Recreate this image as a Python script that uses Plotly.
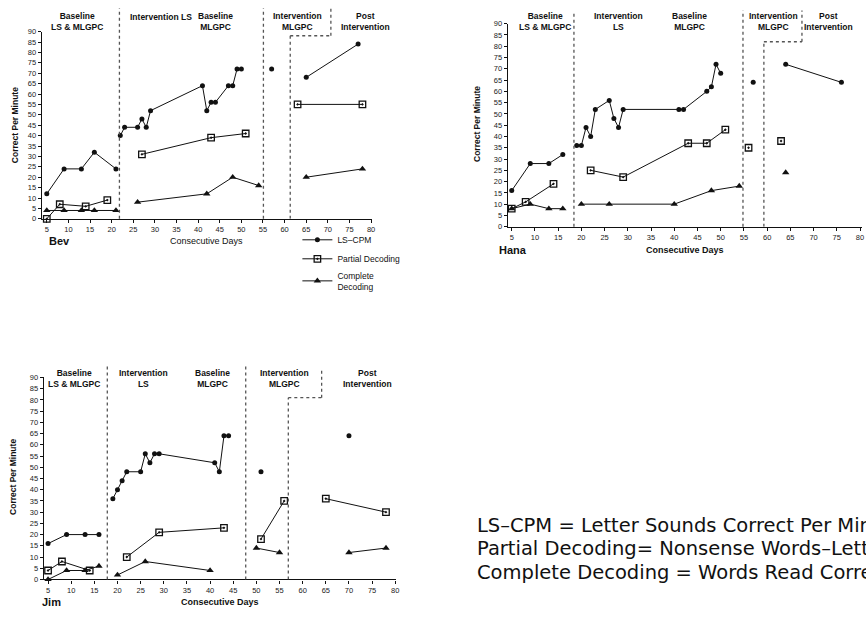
import plotly.graph_objects as go

# ---------------- data (None = phase break) ----------------
BEV_LS_DAYS = [5, 9, 13, 16, 21, None, 22, 23, 26, 27, 28, 29, 41, 42, 43, 44, 47, 48, 49, 50, None, 57, None, 65, 77]
BEV_LS = [12, 24, 24, 32, 24, None, 40, 44, 44, 48, 44, 52, 64, 52, 56, 56, 64, 64, 72, 72, None, 72, None, 68, 84]
BEV_PD_DAYS = [5, 8, 14, 19, None, 27, 43, 51, None, 63, 78]
BEV_PD = [0, 7, 6, 9, None, 31, 39, 41, None, 55, 55]
BEV_CD_DAYS = [5, 9, 13, 16, 21, None, 26, 42, 48, 54, None, 65, 78]
BEV_CD = [4, 4, 4, 4, 4, None, 8, 12, 20, 16, None, 20, 24]

HANA_LS_DAYS = [5, 9, 13, 16, None, 19, 20, 21, 22, 23, 26, 27, 28, 29, 41, 42, 47, 48, 49, 50, None, 57, None, 64, 76]
HANA_LS = [16, 28, 28, 32, None, 36, 36, 44, 40, 52, 56, 48, 44, 52, 52, 52, 60, 62, 72, 68, None, 64, None, 72, 64]
HANA_PD_DAYS = [5, 8, 14, None, 22, 29, 43, 47, 51, None, 56, None, 63]
HANA_PD = [8, 11, 19, None, 25, 22, 37, 37, 43, None, 35, None, 38]
HANA_CD_DAYS = [5, 9, 13, 16, None, 20, 26, 40, 48, 54, None, 64]
HANA_CD = [8, 10, 8, 8, None, 10, 10, 10, 16, 18, None, 24]

JIM_LS_DAYS = [5, 9, 13, 16, None, 19, 20, 21, 22, 25, 26, 27, 28, 29, 41, 42, 43, 44, None, 51, None, 70]
JIM_LS = [16, 20, 20, 20, None, 36, 40, 44, 48, 48, 56, 52, 56, 56, 52, 48, 64, 64, None, 48, None, 64]
JIM_PD_DAYS = [5, 8, 14, None, 22, 29, 43, None, 51, 56, None, 65, 78]
JIM_PD = [4, 8, 4, None, 10, 21, 23, None, 18, 35, None, 36, 30]
JIM_CD_DAYS = [5, 9, 13, 16, None, 20, 26, 40, None, 50, 55, None, 70, 78]
JIM_CD = [0, 4, 4, 6, None, 2, 8, 4, None, 14, 12, None, 12, 14]

# phase change lines: [first, second], stepped line (upper x, lower x, step level)
BEV_PHASES = [21.8, 55.1]
BEV_STEP = [70.7, 61.3, 88]
HANA_PHASES = [18.4, 54.8]
HANA_STEP = [67.5, 59.3, 82]
JIM_PHASES = [17.8, 47.7]
JIM_STEP = [64.1, 56.9, 81]

SERIES_NAMES = ["LS\u2013CPM", "Partial Decoding", "Complete<br>Decoding"]
Y_TICKS = list(range(0, 95, 5))
X_TICKS = list(range(5, 85, 5))

FONT = "Liberation Sans, Arial, sans-serif"
BLACK = "#111111"

fig = go.Figure()

participants = [
    ("x", "y", BEV_LS_DAYS, BEV_LS, BEV_PD_DAYS, BEV_PD, BEV_CD_DAYS, BEV_CD, True),
    ("x2", "y2", HANA_LS_DAYS, HANA_LS, HANA_PD_DAYS, HANA_PD, HANA_CD_DAYS, HANA_CD, False),
    ("x3", "y3", JIM_LS_DAYS, JIM_LS, JIM_PD_DAYS, JIM_PD, JIM_CD_DAYS, JIM_CD, False),
]
markers = [
    dict(symbol="circle", size=5, color=BLACK),
    dict(symbol="square-open-dot", size=6.5, color=BLACK, line=dict(width=1.3, color=BLACK)),
    dict(symbol="triangle-up", size=6.5, color=BLACK),
]
for xa, ya, d1, v1, d2, v2, d3, v3, show in participants:
    for (days, vals), name, mk in zip([(d1, v1), (d2, v2), (d3, v3)], SERIES_NAMES, markers):
        fig.add_trace(go.Scatter(
            x=days, y=vals, name=name, mode="lines+markers",
            line=dict(color=BLACK, width=1), marker=mk,
            xaxis=xa, yaxis=ya, showlegend=show, cliponaxis=False,
            connectgaps=False,
        ))

def xaxis(domain, rng):
    return dict(domain=domain, range=rng, tickvals=X_TICKS, ticks="outside", ticklen=3,
                tickwidth=1, tickcolor=BLACK, showline=True, linecolor=BLACK, linewidth=1.2,
                showgrid=False, zeroline=False, tickfont=dict(family=FONT, size=7.5, color="#222"))

def yaxis(domain, anchor):
    return dict(domain=domain, range=[0, 90], tickvals=Y_TICKS, ticks="outside", ticklen=3,
                tickwidth=1, tickcolor=BLACK, showline=True, linecolor=BLACK, linewidth=1.2,
                showgrid=False, zeroline=False, anchor=anchor,
                tickfont=dict(family=FONT, size=7.5, color="#222"))

fig.update_layout(
    width=866, height=617,
    margin=dict(l=0, r=0, t=0, b=0),
    paper_bgcolor="white", plot_bgcolor="white",
    font=dict(family=FONT, color=BLACK),
    xaxis=dict(xaxis([0.0485, 0.431], [3.85, 80.1]), anchor="y"),
    yaxis=yaxis([0.6467, 0.9546], "x"),
    xaxis2=dict(xaxis([0.589, 1.0], [4.14, 80.43]), anchor="y2"),
    yaxis2=yaxis([0.6337, 0.9676], "x2"),
    xaxis3=dict(xaxis([0.0508, 0.4596], [4.08, 80.2]), anchor="y3"),
    yaxis3=yaxis([0.0535, 0.3857], "x3"),
    legend=dict(x=0.345, y=0.636, xanchor="left", yanchor="top",
                font=dict(family=FONT, size=8.5, color=BLACK),
                bgcolor="rgba(0,0,0,0)", itemwidth=30, tracegroupgap=0),
)

# phase lines
line_style = dict(color="#555555", width=1.3, dash="dot")
def add_phase_lines(xa, ya, phases, step, tops):
    for px, top in zip(phases, tops[:2]):
        fig.add_shape(type="line", xref=xa, yref=ya + " domain", x0=px, x1=px, y0=0, y1=top, line=line_style)
    up, low, lvl = step
    fig.add_shape(type="line", xref=xa, yref=ya, x0=low, x1=low, y0=0, y1=lvl, line=line_style)
    fig.add_shape(type="line", xref=xa, yref=ya, x0=low, x1=up, y0=lvl, y1=lvl, line=line_style)
    fig.add_shape(type="line", xref=xa, yref=ya + " domain", x0=up, x1=up, y0=lvl / 90, y1=tops[2], line=line_style)

add_phase_lines("x", "y", BEV_PHASES, BEV_STEP, [1.125, 1.125, 1.125])
add_phase_lines("x2", "y2", HANA_PHASES, HANA_STEP, [1.05, 1.065, 1.065])
add_phase_lines("x3", "y3", JIM_PHASES, JIM_STEP, [1.068, 1.068, 1.034])

# phase labels
def label(xa, ya, x, y, text):
    fig.add_annotation(xref=xa, yref=ya + " domain", x=x, y=y, text=text, showarrow=False,
                       font=dict(family=FONT, size=8.5, color=BLACK), align="center",
                       xanchor="center", yanchor="middle")

label("x", "y", 11.9, 1.053, "<b>Baseline<br>LS &amp; MLGPC</b>")
label("x", "y", 31.4, 1.08, "<b>Intervention LS</b>")
label("x", "y", 44, 1.053, "<b>Baseline<br>MLGPC</b>")
label("x", "y", 63, 1.053, "<b>Intervention<br>MLGPC</b>")
label("x", "y", 78.6, 1.053, "<b>Post<br>Intervention</b>")

label("x2", "y2", 12.1, 1.012, "<b>Baseline<br>LS &amp; MLGPC</b>")
label("x2", "y2", 27.9, 1.012, "<b>Intervention<br>LS</b>")
label("x2", "y2", 43.3, 1.012, "<b>Baseline<br>MLGPC</b>")
label("x2", "y2", 61.3, 1.012, "<b>Intervention<br>MLGPC</b>")
label("x2", "y2", 73.3, 1.012, "<b>Post<br>Intervention</b>")

label("x3", "y3", 10.5, 0.995, "<b>Baseline<br>LS &amp; MLGPC</b>")
label("x3", "y3", 25.7, 0.995, "<b>Intervention<br>LS</b>")
label("x3", "y3", 40.6, 0.995, "<b>Baseline<br>MLGPC</b>")
label("x3", "y3", 56.1, 0.995, "<b>Intervention<br>MLGPC</b>")
label("x3", "y3", 73.9, 0.995, "<b>Post<br>Intervention</b>")

def paper_text(x, y, text, size, **kw):
    fig.add_annotation(xref="paper", yref="paper", x=x / 866, y=1 - y / 617, text=text,
                       showarrow=False, xanchor=kw.pop("xanchor", "center"),
                       yanchor=kw.pop("yanchor", "middle"),
                       font=dict(family=kw.pop("family", FONT), size=size, color=BLACK), **kw)

# y titles
for x, y in [(15, 123), (479, 122), (13, 480)]:
    paper_text(x, y, "<b>Correct Per Minute</b>", 8.5, textangle=-90)

# names and x titles
for x, y, t in [(60, 241, "<b>Bev</b>"), (515, 250, "<b>Hana</b>"), (52, 607, "<b>Jim</b>")]:
    paper_text(x, y, t, 11)
for x, y, t in [(207, 241, "Consecutive Days"), (688, 250, "<b>Consecutive Days</b>"),
                (221, 607, "<b>Consecutive Days</b>")]:
    paper_text(x, y, t, 9)

NOTES = ["LS\u2013CPM = Letter Sounds Correct Per Minute",
         "Partial Decoding= Nonsense Words\u2013Letter Sounds Correct",
         "Complete Decoding = Words Read Correctly"]
for i, t in enumerate(NOTES):
    paper_text(477, 529 + 24 * i, t, 19.5, xanchor="left", family="DejaVu Sans")

fig.write_html("out.html")
